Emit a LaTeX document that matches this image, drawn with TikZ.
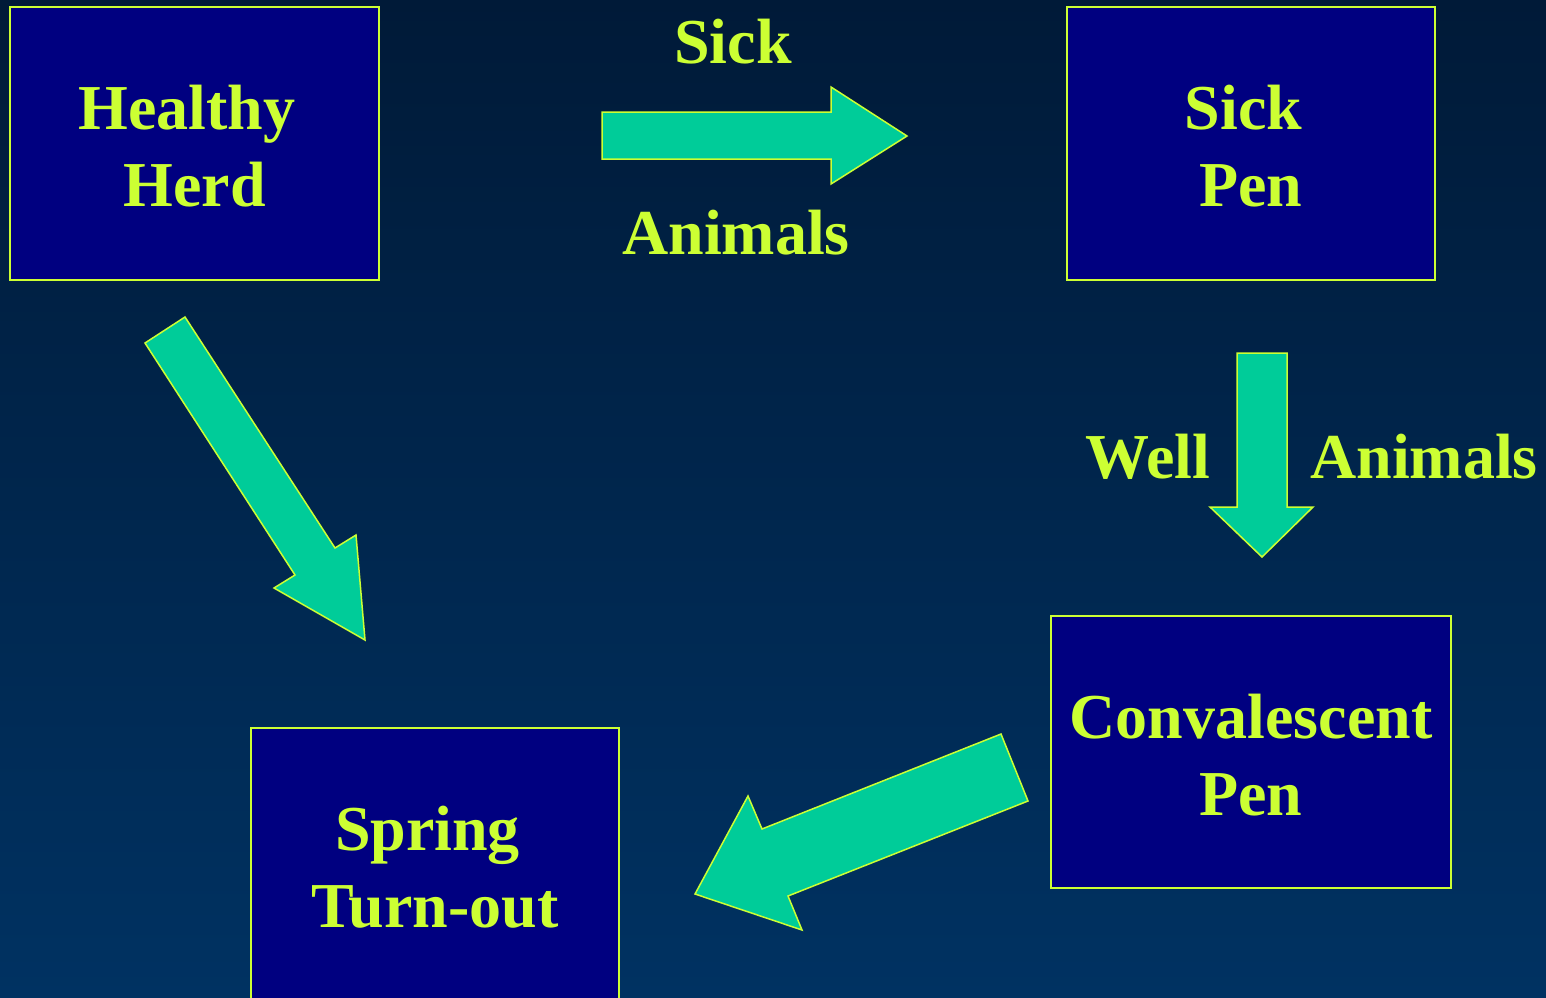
\documentclass[tikz,border=0pt]{standalone}
\usepackage{fontspec}
\setmainfont{Liberation Serif}
\definecolor{bgtop}{HTML}{001A38}
\definecolor{bgbot}{HTML}{003262}
\definecolor{lime}{HTML}{CCFF33}
\definecolor{navybox}{HTML}{000080}
\definecolor{arrowfill}{HTML}{00CC99}
\tikzset{
  box/.style={draw=lime, line width=2pt, fill=navybox, text=lime, align=center,
    font=\fontsize{64}{77}\selectfont\bfseries, inner sep=0pt},
  lbl/.style={text=lime, font=\fontsize{64}{77}\selectfont\bfseries, anchor=base, inner sep=0pt},
  blockarrow/.style={draw=lime, line width=1.5pt, fill=arrowfill, line join=miter}
}
\begin{document}
\begin{tikzpicture}[x=1pt,y=-1pt]
\useasboundingbox (0,0) rectangle (1546,997);
\shade[top color=bgtop, bottom color=bgbot] (0,0) rectangle (1546,997);
% boxes
\node[box, minimum width=369pt, minimum height=273pt] (healthy) at (194.5,143.5) {\rule{0pt}{50pt}Healthy\rule{15pt}{0pt}\\Herd};
\node[box, minimum width=368pt, minimum height=273pt] (sick) at (1251,143.5) {\rule{0pt}{50pt}Sick\rule{15pt}{0pt}\\Pen};
\node[box, minimum width=400pt, minimum height=272pt] (conv) at (1251,752) {\rule{0pt}{50pt}Convalescent\\Pen};
\node[box, minimum width=368pt, minimum height=273pt] (spring) at (435,864.5) {\rule{0pt}{50pt}Spring\rule{15pt}{0pt}\\Turn-out};
% block arrows
\draw[blockarrow] (602,112) -- (831,112) -- (831,87) -- (907,136) -- (831,184) -- (831,159) -- (602,159) -- cycle;
\draw[blockarrow] (1237,353) -- (1287,353) -- (1287,507) -- (1313,507) -- (1262,557) -- (1210,507) -- (1237,507) -- cycle;
\draw[blockarrow] (145,343) -- (185,317) -- (335,548) -- (356,535) -- (365,640) -- (274,588) -- (295,575) -- cycle;
\draw[blockarrow] (1001,734) -- (1028,801) -- (788,896) -- (802,930) -- (695,894) -- (748,796) -- (762,829) -- cycle;
% labels
\node[lbl] (l1) at (733,63) {Sick};
\node[lbl] (l2) at (736,254) {Animals};
\node[lbl] (l3) at (1148,478) {Well};
\node[lbl] (l4) at (1424,478) {Animals};
\end{tikzpicture}
\end{document}
